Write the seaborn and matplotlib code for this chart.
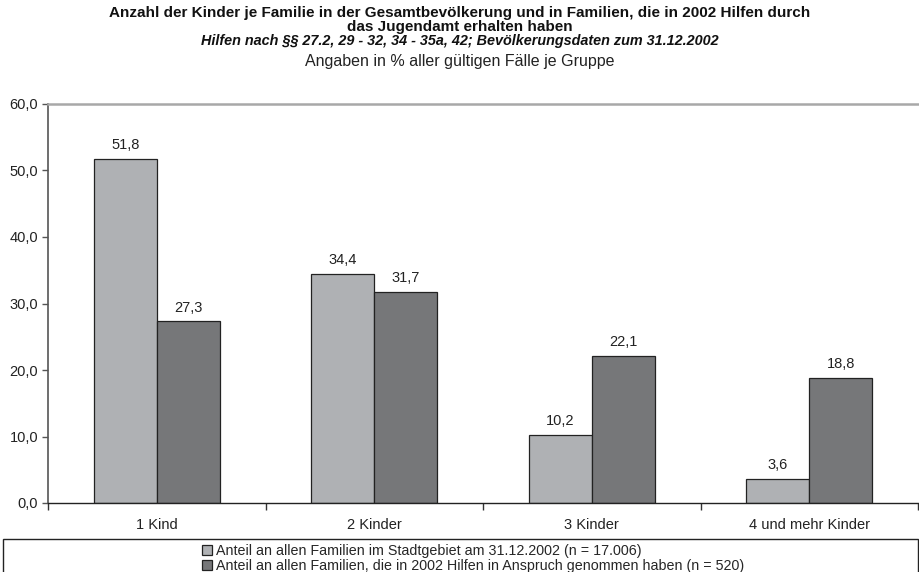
import pandas as pd
import seaborn as sns
import matplotlib.pyplot as plt
from matplotlib.patches import Rectangle
from matplotlib.ticker import FuncFormatter, FixedLocator


kategorien = ['1 Kind', '2 Kinder', '3 Kinder', '4 und mehr Kinder']
gesamt = [51.8, 34.4, 10.2, 3.6]
hilfen = [27.3, 31.7, 22.1, 18.8]
serien = ['Anteil an allen Familien im Stadtgebiet am 31.12.2002 (n = 17.006)',
          'Anteil an allen Familien, die in 2002 Hilfen in Anspruch genommen haben (n = 520)']

df = pd.DataFrame({
    'Kategorie': kategorien * 2,
    'Anteil': gesamt + hilfen,
    'Gruppe': [serien[0]] * 4 + [serien[1]] * 4,
})

sns.set_style('white')
plt.rcParams['font.family'] = ['Liberation Sans', 'DejaVu Sans']

fig = plt.figure(figsize=(9.19, 5.72), dpi=100)
ax = fig.add_axes([48 / 919, 1 - 503 / 572, 870 / 919, 399 / 572])

farben = ['#afb1b4', '#767779']
sns.barplot(data=df, x='Kategorie', y='Anteil', hue='Gruppe', palette=farben,
            width=0.58, gap=0, edgecolor='#222222', linewidth=0.9,
            saturation=1, legend=False, ax=ax)

for cont in ax.containers:
    ax.bar_label(cont, labels=[f'{v:.1f}'.replace('.', ',') for v in cont.datavalues],
                 padding=5, fontsize=10.5, color='#222222')

ax.set_ylim(0, 60)
ax.set_xlim(-0.5, 3.5)
ax.set_yticks(range(0, 61, 10))
ax.yaxis.set_major_formatter(FuncFormatter(lambda v, p: f'{v:.1f}'.replace('.', ',')))
ax.tick_params(axis='y', left=True, length=4, width=1, color='#555555',
               labelsize=10.5, labelcolor='#222222', pad=3)
ax.xaxis.set_minor_locator(FixedLocator([-0.5, 0.5, 1.5, 2.5, 3.5]))
ax.tick_params(axis='x', which='major', bottom=False, labelsize=10.5,
               labelcolor='#222222', pad=7)
ax.tick_params(axis='x', which='minor', bottom=True, length=5, width=1, color='#333333')
ax.set_xlabel('')
ax.set_ylabel('')

ax.spines['right'].set_visible(False)
ax.spines['top'].set_color('#a8a8a8')
ax.spines['top'].set_linewidth(1.8)
ax.spines['left'].set_color('#555555')
ax.spines['left'].set_linewidth(1.2)
ax.spines['bottom'].set_color('#222222')
ax.spines['bottom'].set_linewidth(1.0)

fig.text(0.5, 1 - 13 / 572, 'Anzahl der Kinder je Familie in der Gesamtbevölkerung und in Familien, '
         'die in 2002 Hilfen durch', ha='center', va='center', fontsize=11, fontweight='bold',
         color='#111111')
fig.text(0.5, 1 - 27 / 572, 'das Jugendamt erhalten haben', ha='center', va='center',
         fontsize=11, fontweight='bold', color='#111111')
fig.text(0.5, 1 - 41 / 572, 'Hilfen nach §§ 27.2, 29 - 32, 34 - 35a, 42; Bevölkerungsdaten zum 31.12.2002',
         ha='center', va='center', fontsize=10.4, fontweight='bold', style='italic', color='#111111')
fig.text(0.5, 1 - 62 / 572, 'Angaben in % aller gültigen Fälle je Gruppe', ha='center',
         va='center', fontsize=11.5, color='#222222')

fig.patches.append(Rectangle((3 / 919, -0.05), 915 / 919, 0.05 + (572 - 539) / 572,
                             transform=fig.transFigure, fill=False,
                             edgecolor='#222222', linewidth=1.0))

handles = [Rectangle((0, 0), 1, 1, facecolor=c, edgecolor='#222222', linewidth=0.9)
           for c in farben]
fig.legend(handles, serien, loc='upper left', bbox_to_anchor=(202 / 919, 1 - 544 / 572),
           frameon=False, fontsize=10.3, handlelength=0.7, handleheight=0.7,
           handletextpad=0.25, labelspacing=0.1, borderaxespad=0, borderpad=0)

fig.savefig('out.png', dpi=100)
